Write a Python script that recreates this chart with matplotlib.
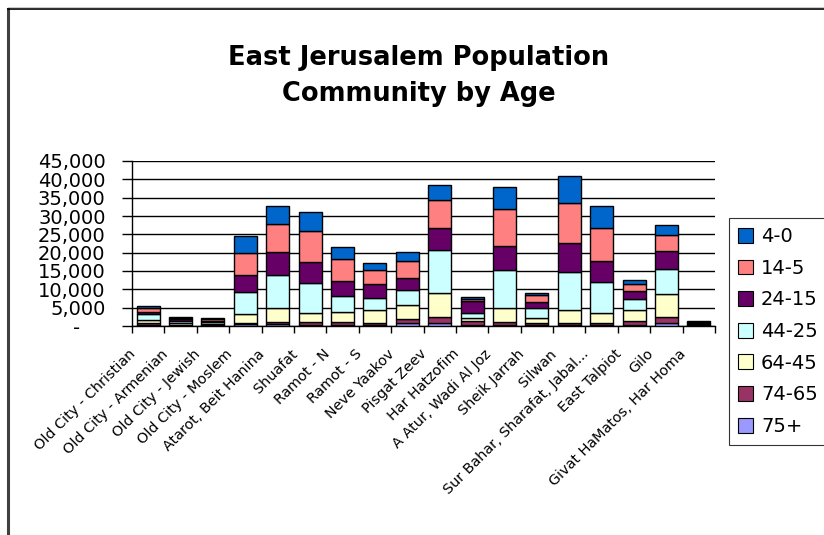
import matplotlib.pyplot as plt
from matplotlib.patches import Patch
from matplotlib.lines import Line2D
from matplotlib.ticker import FuncFormatter
import matplotlib.transforms as mtransforms
import numpy as np

# communities (x axis)
communities = ['Old City - Christian', 'Old City - Armenian', 'Old City - Jewish',
               'Old City - Moslem', 'Atarot, Beit Hanina', 'Shuafat', 'Ramot - N',
               'Ramot - S', 'Neve Yaakov', 'Pisgat Zeev', 'Har Hatzofim',
               'A Atur, Wadi Al Joz', 'Sheik Jarrah', 'Silwan',
               'Sur Bahar, Sharafat, Jabal...', 'East Talpiot', 'Gilo',
               'Givat HaMatos, Har Homa']

# population by age group
age_0_4   = [450, 300, 300, 4550, 4730, 5090, 3460, 1910, 2270, 4090, 360, 6090, 550, 7270, 6000, 1000, 2730, 200]
age_5_14  = [1180, 300, 400, 5900, 7820, 8450, 6000, 3820, 4730, 7820, 640, 10000, 2090, 11000, 8820, 1910, 4550, 300]
age_15_24 = [360, 400, 400, 4730, 6090, 5720, 4090, 3820, 3180, 6000, 3180, 6640, 1540, 7910, 5720, 2180, 4730, 200]
age_25_44 = [1640, 700, 500, 5900, 9090, 8180, 4360, 3360, 4270, 11640, 1360, 10360, 2640, 10270, 8640, 3090, 6820, 300]
age_45_64 = [900, 500, 300, 2450, 3730, 2640, 2730, 3640, 3820, 6450, 1000, 3730, 1360, 3450, 2540, 3090, 6270, 150]
age_65_74 = [500, 200, 200, 450, 600, 600, 700, 400, 910, 1640, 900, 800, 600, 600, 600, 900, 1640, 70]
age_75p   = [300, 100, 100, 450, 580, 400, 300, 300, 910, 910, 370, 380, 310, 310, 310, 370, 910, 50]

# stacking order bottom -> top
series = [
    ('75+', age_75p, '#9999FF'),
    ('74-65', age_65_74, '#993366'),
    ('64-45', age_45_64, '#FFFFCC'),
    ('44-25', age_25_44, '#CCFFFF'),
    ('24-15', age_15_24, '#660066'),
    ('14-5', age_5_14, '#FF8080'),
    ('4-0', age_0_4, '#0066CC'),
]

plt.rcParams['font.family'] = ['DejaVu Sans']

fig = plt.figure(figsize=(8.24, 5.35), dpi=100)
ax = fig.add_axes([132/824, 1 - 326/535, (715 - 132)/824, (326 - 161)/535])

x = np.arange(len(communities))
bottom = np.zeros(len(communities))
for name, vals, col in series:
    ax.bar(x, vals, width=0.71, bottom=bottom, color=col, edgecolor='black',
           linewidth=1.0, zorder=3)
    bottom += np.array(vals)

ax.set_xlim(-0.5, len(communities) - 0.5)
ax.set_ylim(0, 45000)
ax.set_yticks(np.arange(0, 45001, 5000))
ax.yaxis.set_major_formatter(FuncFormatter(lambda v, p: '-    ' if v == 0 else f'{int(v):,}'))
ax.yaxis.grid(True, color='black', linewidth=1.0, zorder=0)
ax.tick_params(axis='y', length=7, width=1, pad=12, labelsize=14, colors='black')

# ticks at category boundaries, labels at centers
ax.set_xticks(np.arange(-0.5, len(communities)), minor=False)
ax.set_xticklabels([])
ax.set_xticks(x, minor=True)
ax.set_xticklabels(communities, minor=True, rotation=45, ha='right',
                   rotation_mode='anchor', fontsize=10.4)
ax.tick_params(axis='x', which='major', length=5, width=1, direction='out')
ax.tick_params(axis='x', which='minor', length=0, pad=10)
shift = mtransforms.ScaledTranslation(-0.2, -0.07, fig.dpi_scale_trans)
for lab in ax.get_xticklabels(minor=True):
    lab.set_transform(lab.get_transform() + shift)

for s in ['top', 'right']:
    ax.spines[s].set_visible(False)
for s in ['left', 'bottom']:
    ax.spines[s].set_color('black')
    ax.spines[s].set_linewidth(1.0)

fig.text(0.508, 1 - 76/535, 'East Jerusalem Population\nCommunity by Age',
         ha='center', va='center', fontsize=18.5, fontweight='bold', linespacing=1.5)

handles = [Patch(facecolor=col, edgecolor='black', linewidth=0.8, label=name)
           for name, vals, col in series[::-1]]
leg = fig.legend(handles=handles, loc='center left',
                 bbox_to_anchor=(729/824, 1 - 331.5/535), fontsize=14,
                 frameon=True, fancybox=False, edgecolor='black',
                 handlelength=0.8, handleheight=0.8, handletextpad=0.4,
                 labelspacing=0.65, borderpad=0.45, borderaxespad=0)
leg.get_frame().set_linewidth(0.8)

# outer chart border (left and top)
fig.add_artist(Line2D([8/824, 8/824], [0, 1 - 9/535], color='#404040', linewidth=2.2))
fig.add_artist(Line2D([8/824, 1], [1 - 9/535, 1 - 9/535], color='black', linewidth=1.2))
fig.add_artist(Line2D([8/824, 1], [1 - 7/535, 1 - 7/535], color='#cccccc', linewidth=0.8))

fig.savefig('out.png', dpi=100)
